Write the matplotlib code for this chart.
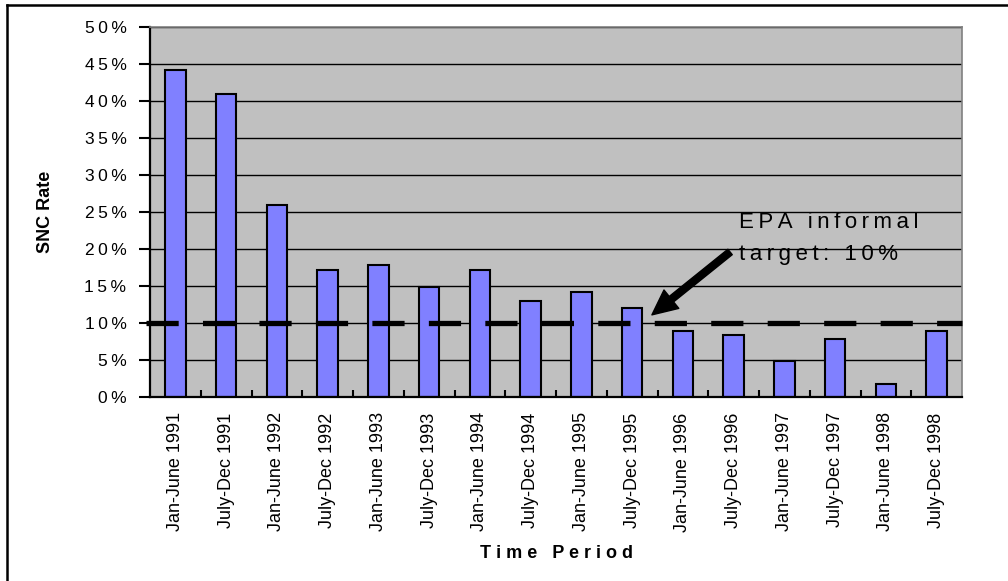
import matplotlib.pyplot as plt
from matplotlib.lines import Line2D

plt.rcParams["font.family"] = ["Liberation Sans", "DejaVu Sans"]

PERIODS = [
    "Jan-June 1991", "July-Dec 1991", "Jan-June 1992", "July-Dec 1992",
    "Jan-June 1993", "July-Dec 1993", "Jan-June 1994", "July-Dec 1994",
    "Jan-June 1995", "July-Dec 1995", "Jan-June 1996", "July-Dec 1996",
    "Jan-June 1997", "July-Dec 1997", "Jan-June 1998", "July-Dec 1998",
]
SNC_RATE = [44.2, 41.0, 26.0, 17.2, 17.9, 14.9, 17.1, 13.0,
            14.2, 12.0, 8.9, 8.4, 4.9, 7.9, 1.7, 8.9]
TARGET = 10
Y_TICKS = [0, 5, 10, 15, 20, 25, 30, 35, 40, 45, 50]
NOTE_LINES = ["EPA informal", "target: 10%"]

THIN = "\u2009"


def spaced(text, sep=THIN):
    return sep.join(text)


def main() -> None:
    fig = plt.figure(figsize=(10.08, 5.81), dpi=100)
    ax = fig.add_axes([150 / 1008, 1 - 397 / 581, 812 / 1008, 370 / 581])
    ax.set_facecolor("#c0c0c0")

    x = list(range(len(PERIODS)))
    ax.bar(x, SNC_RATE, width=0.4, color="#8080ff", edgecolor="black",
           linewidth=1.5, zorder=2)

    # dashed target line, drawn over the bars
    ax.plot([-0.58, len(PERIODS) - 0.5], [TARGET, TARGET], color="black",
            linewidth=3.8, dashes=(6.1, 4.6), solid_capstyle="butt",
            dash_capstyle="butt", clip_on=False, zorder=4)

    ax.set_xlim(-0.5, len(PERIODS) - 0.5)
    ax.set_ylim(0, 50)

    ax.set_yticks(Y_TICKS)
    ax.set_yticklabels([spaced(f"{v}%") for v in Y_TICKS], fontsize=12.5)
    ax.tick_params(axis="y", direction="out", length=8, width=1.5, pad=9)
    ax.yaxis.grid(True, color="black", linewidth=1.0)
    ax.set_axisbelow(True)

    ax.set_xticks(x)
    ax.set_xticklabels(PERIODS, rotation=90, fontsize=13)
    ax.tick_params(axis="x", which="major", length=0, pad=11)
    ax.set_xticks([i + 0.5 for i in x[:-1]], minor=True)
    ax.tick_params(axis="x", which="minor", direction="in", length=5, width=1.5)

    for side in ("left", "bottom"):
        ax.spines[side].set_color("black")
        ax.spines[side].set_linewidth(1.6)
    for side in ("top", "right"):
        ax.spines[side].set_color("#808080")
        ax.spines[side].set_linewidth(1.2)

    ax.set_ylabel("SNC Rate", fontsize=13, fontweight="bold", labelpad=22)
    ax.set_xlabel(spaced("Time Period", " "), fontsize=13, fontweight="bold",
                  labelpad=10)

    ax.annotate("", xy=(9.39, 11.1), xytext=(10.93, 19.6),
                arrowprops=dict(arrowstyle="simple,head_length=1.8,head_width=1.7,tail_width=0.5",
                                color="black", shrinkA=0, shrinkB=0),
                zorder=5)
    for line, y in zip(NOTE_LINES, (22.84, 18.51)):
        ax.text(11.1, y, spaced(line), fontsize=16, va="baseline", ha="left",
                zorder=1)

    # outer frame (left and top edges visible)
    fig.add_artist(Line2D([7 / 1008, 7 / 1008], [0, 1 - 5 / 581],
                          transform=fig.transFigure, color="black", linewidth=1.8))
    fig.add_artist(Line2D([7 / 1008, 1], [1 - 5 / 581, 1 - 5 / 581],
                          transform=fig.transFigure, color="black", linewidth=1.8))

    fig.savefig("out.png", dpi=100)


if __name__ == "__main__":
    main()
